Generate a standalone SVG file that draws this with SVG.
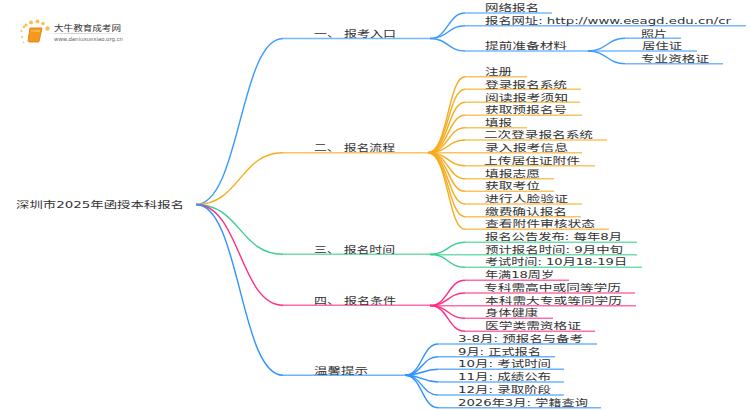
<svg xmlns="http://www.w3.org/2000/svg" width="750" height="410" viewBox="0 0 750 410">
<style>
text{font-family:"DejaVu Sans","Noto Sans CJK SC",sans-serif;font-size:9.500px;fill:#333;transform:translateY(-.5px)}
path{fill:none;stroke-width:1.4}
.b1{stroke:#3d9bff}.o{stroke:#f7ab1e}.g{stroke:#39cf8c}.p{stroke:#ff2d85}.b2{stroke:#2f93ff}
.h{stroke-width:1.6;opacity:.7}
</style>
<defs><linearGradient id="fade"><stop offset="0" stop-color="#ccc" stop-opacity="0"/><stop offset=".3" stop-color="#ccc"/><stop offset="1" stop-color="#ccc" stop-opacity="0"/></linearGradient></defs>
<rect width="750" height="410" fill="#fff"/>
<g id="connectors">
<g class="b1">
<path class="b1" d="M196 204.500C240 204.500 240 38.500 283 38.500"/><path class="b1 h" d="M283 38.500H430"/>
<path class="b1" d="M430 38.500C448 38.500 448 13 465 13"/><path class="b1 h" d="M465 13H552"/>
<path class="b1" d="M430 38.500C448 38.500 448 25.700 465 25.700"/><path class="b1 h" d="M465 25.700H746"/>
<path class="b1" d="M430 38.500C448 38.500 448 51 465 51"/><path class="b1 h" d="M465 51H588"/>
<path class="b1" d="M588 51C607 51 607 38.300 625 38.300"/><path class="b1 h" d="M625 38.300H681"/>
<path class="b1 h" d="M588 51H697"/>
<path class="b1" d="M588 51C607 51 607 63.700 625 63.700"/><path class="b1 h" d="M625 63.700H723"/>
</g>
<g>
<path class="o" d="M196 204.500C240 204.500 240 152.700 283 152.700"/><path class="o h" d="M283 152.700H428"/>
<path class="o" d="M428 152.700C448 152.700 448 76.700 465 76.700"/><path class="o h" d="M465 76.700H527"/>
<path class="o" d="M428 152.700C448 152.700 448 89.300 465 89.300"/><path class="o h" d="M465 89.300H581"/>
<path class="o" d="M428 152.700C448 152.700 448 102.300 465 102.300"/><path class="o h" d="M465 102.300H580"/>
<path class="o" d="M428 152.700C448 152.700 448 115.300 465 115.300"/><path class="o h" d="M465 115.300H582"/>
<path class="o" d="M428 152.700C448 152.700 448 127.700 465 127.700"/><path class="o h" d="M465 127.700H527"/>
<path class="o" d="M428 152.700C448 152.700 448 140 465 140"/><path class="o h" d="M465 140H607"/>
<path class="o h" d="M428 152.700H582"/>
<path class="o" d="M428 152.700C448 152.700 448 165.700 465 165.700"/><path class="o h" d="M465 165.700H595"/>
<path class="o" d="M428 152.700C448 152.700 448 178.700 465 178.700"/><path class="o h" d="M465 178.700H554"/>
<path class="o" d="M428 152.700C448 152.700 448 191.300 465 191.300"/><path class="o h" d="M465 191.300H554"/>
<path class="o" d="M428 152.700C448 152.700 448 204 465 204"/><path class="o h" d="M465 204H582"/>
<path class="o" d="M428 152.700C448 152.700 448 216.700 465 216.700"/><path class="o h" d="M465 216.700H581"/>
<path class="o" d="M428 152.700C448 152.700 448 229.300 465 229.300"/><path class="o h" d="M465 229.300H609"/>
</g>
<g>
<path class="g" d="M196 204.500C240 204.500 240 254.300 283 254.300"/><path class="g h" d="M283 254.300H430"/>
<path class="g" d="M430 254.300C448 254.300 448 242.300 465 242.300"/><path class="g h" d="M465 242.300H637"/>
<path class="g h" d="M430 254.800H637"/>
<path class="g" d="M430 254.300C448 254.300 448 267.300 465 267.300"/><path class="g h" d="M465 267.300H642"/>
</g>
<g>
<path class="p" d="M196 204.500C240 204.500 240 305.300 283 305.300"/><path class="p h" d="M283 305.300H430"/>
<path class="p" d="M430 305.500C448 305.500 448 280.300 465 280.300"/><path class="p h" d="M465 280.300H569"/>
<path class="p" d="M430 305.500C448 305.500 448 293 465 293"/><path class="p h" d="M465 293H635"/>
<path class="p h" d="M430 305.700H636"/>
<path class="p" d="M430 305.500C448 305.500 448 318.300 465 318.300"/><path class="p h" d="M465 318.300H553"/>
<path class="p" d="M430 305.500C448 305.500 448 331.300 465 331.300"/><path class="p h" d="M465 331.300H595"/>
</g>
<g>
<path class="b2" d="M196 204.500C240 204.500 240 375.300 283 375.300"/><path class="b2 h" d="M283 375.300H405"/>
<path class="b2" d="M405 375.300C422 375.300 422 344 438 344"/><path class="b2 h" d="M438 344H597"/>
<path class="b2" d="M405 375.300C422 375.300 422 356.700 438 356.700"/><path class="b2 h" d="M438 356.700H555"/>
<path class="b2" d="M405 375.300C422 375.300 422 369.300 438 369.300"/><path class="b2 h" d="M438 369.300H564"/>
<path class="b2" d="M405 375.300C422 375.300 422 382 438 382"/><path class="b2 h" d="M438 382H564"/>
<path class="b2" d="M405 375.300C422 375.300 422 395 438 395"/><path class="b2 h" d="M438 395H564"/>
<path class="b2" d="M405 375.300C422 375.300 422 407.700 438 407.700"/><path class="b2 h" d="M438 407.700H601"/>
</g>
</g>
<g id="logo">
<g fill="#f9bf4b"><circle cx="24" cy="27" r="1.2"/><circle cx="21.500" cy="31" r="1"/><circle cx="26" cy="25" r="1.600"/><circle cx="31" cy="22.500" r="2"/><circle cx="37.500" cy="21.500" r="2"/><circle cx="43" cy="23.500" r="1.800"/><circle cx="47.500" cy="28.500" r="2.200"/><circle cx="22" cy="37" r="1"/><circle cx="23.500" cy="42.500" r=".8"/></g>
<path d="M30 28H42L39 41.500H28Z" style="fill:#f59a1e;stroke:#e8851a;stroke-width:1"/>
<path d="M28 41C28 43 30 42.500 39 42.500" style="stroke:#f7c78a;stroke-width:1"/>
<path d="M31 31H40" style="stroke:#ffd79a;stroke-width:.8"/>
<rect x="45" y="33" width="88" height="1" fill="url(#fade)"/>
<text x="54" y="31" textLength="67" lengthAdjust="spacingAndGlyphs" style="font-size:8.500px">大牛教育成考网</text>
<text x="54" y="41" textLength="69" lengthAdjust="spacingAndGlyphs" style="font-size:5.500px;fill:#666">www.daniuxuexiao.org.cn</text>
</g>
<g id="root"><text x="16" y="208.500" textLength="168" lengthAdjust="spacingAndGlyphs">深圳市2025年函授本科报名</text></g>
<g id="n1"><text x="314" y="37" textLength="82" lengthAdjust="spacingAndGlyphs">一、 报考入口</text></g>
<g id="n1-1"><text x="485" y="11.500" textLength="54" lengthAdjust="spacingAndGlyphs">网络报名</text></g>
<g id="n1-2"><text x="485" y="24.200" textLength="246" lengthAdjust="spacingAndGlyphs">报名网址: http://www.eeagd.edu.cn/cr</text></g>
<g id="n1-3"><text x="485" y="49.500" textLength="82" lengthAdjust="spacingAndGlyphs">提前准备材料</text></g>
<g id="n1-3-1"><text x="641" y="37" textLength="26" lengthAdjust="spacingAndGlyphs">照片</text></g>
<g id="n1-3-2"><text x="642" y="49.500" textLength="40" lengthAdjust="spacingAndGlyphs">居住证</text></g>
<g id="n1-3-3"><text x="641" y="62.200" textLength="68" lengthAdjust="spacingAndGlyphs">专业资格证</text></g>
<g id="n2"><text x="314" y="151.200" textLength="81" lengthAdjust="spacingAndGlyphs">二、 报名流程</text></g>
<g id="n2-1"><text x="485" y="75.200" textLength="27" lengthAdjust="spacingAndGlyphs">注册</text></g>
<g id="n2-2"><text x="485" y="88" textLength="82" lengthAdjust="spacingAndGlyphs">登录报名系统</text></g>
<g id="n2-3"><text x="485" y="101" textLength="83" lengthAdjust="spacingAndGlyphs">阅读报考须知</text></g>
<g id="n2-4"><text x="485" y="113.800" textLength="82" lengthAdjust="spacingAndGlyphs">获取预报名号</text></g>
<g id="n2-5"><text x="485" y="126.200" textLength="27" lengthAdjust="spacingAndGlyphs">填报</text></g>
<g id="n2-6"><text x="484" y="138.500" textLength="109" lengthAdjust="spacingAndGlyphs">二次登录报名系统</text></g>
<g id="n2-7"><text x="485" y="151.500" textLength="83" lengthAdjust="spacingAndGlyphs">录入报考信息</text></g>
<g id="n2-8"><text x="484" y="164.200" textLength="96" lengthAdjust="spacingAndGlyphs">上传居住证附件</text></g>
<g id="n2-9"><text x="485" y="177.200" textLength="55" lengthAdjust="spacingAndGlyphs">填报志愿</text></g>
<g id="n2-10"><text x="485" y="189.800" textLength="55" lengthAdjust="spacingAndGlyphs">获取考位</text></g>
<g id="n2-11"><text x="485" y="202.500" textLength="83" lengthAdjust="spacingAndGlyphs">进行人脸验证</text></g>
<g id="n2-12"><text x="485" y="215.200" textLength="82" lengthAdjust="spacingAndGlyphs">缴费确认报名</text></g>
<g id="n2-13"><text x="485" y="227.800" textLength="110" lengthAdjust="spacingAndGlyphs">查看附件审核状态</text></g>
<g id="n3"><text x="314" y="253" textLength="81" lengthAdjust="spacingAndGlyphs">三、 报名时间</text></g>
<g id="n3-1"><text x="485" y="240.800" textLength="137" lengthAdjust="spacingAndGlyphs">报名公告发布: 每年8月</text></g>
<g id="n3-2"><text x="485" y="253.500" textLength="138" lengthAdjust="spacingAndGlyphs">预计报名时间: 9月中旬</text></g>
<g id="n3-3"><text x="485" y="265.800" textLength="142" lengthAdjust="spacingAndGlyphs">考试时间: 10月18-19日</text></g>
<g id="n4"><text x="314" y="304" textLength="82" lengthAdjust="spacingAndGlyphs">四、 报名条件</text></g>
<g id="n4-1"><text x="485" y="278.800" textLength="69" lengthAdjust="spacingAndGlyphs">年满18周岁</text></g>
<g id="n4-2"><text x="484" y="291.500" textLength="137" lengthAdjust="spacingAndGlyphs">专科需高中或同等学历</text></g>
<g id="n4-3"><text x="485" y="304.200" textLength="137" lengthAdjust="spacingAndGlyphs">本科需大专或等同学历</text></g>
<g id="n4-4"><text x="485" y="316.800" textLength="53" lengthAdjust="spacingAndGlyphs">身体健康</text></g>
<g id="n4-5"><text x="485" y="329.800" textLength="96" lengthAdjust="spacingAndGlyphs">医学类需资格证</text></g>
<g id="n5"><text x="314" y="374" textLength="54" lengthAdjust="spacingAndGlyphs">温馨提示</text></g>
<g id="n5-1"><text x="458" y="342.500" textLength="125" lengthAdjust="spacingAndGlyphs">3-8月: 预报名与备考</text></g>
<g id="n5-2"><text x="458" y="355.200" textLength="83" lengthAdjust="spacingAndGlyphs">9月: 正式报名</text></g>
<g id="n5-3"><text x="458" y="367.800" textLength="93" lengthAdjust="spacingAndGlyphs">10月: 考试时间</text></g>
<g id="n5-4"><text x="458" y="380.500" textLength="93" lengthAdjust="spacingAndGlyphs">11月: 成绩公布</text></g>
<g id="n5-5"><text x="458" y="393.500" textLength="93" lengthAdjust="spacingAndGlyphs">12月: 录取阶段</text></g>
<g id="n5-6"><text x="458" y="406.200" textLength="130" lengthAdjust="spacingAndGlyphs">2026年3月: 学籍查询</text></g>
</svg>
